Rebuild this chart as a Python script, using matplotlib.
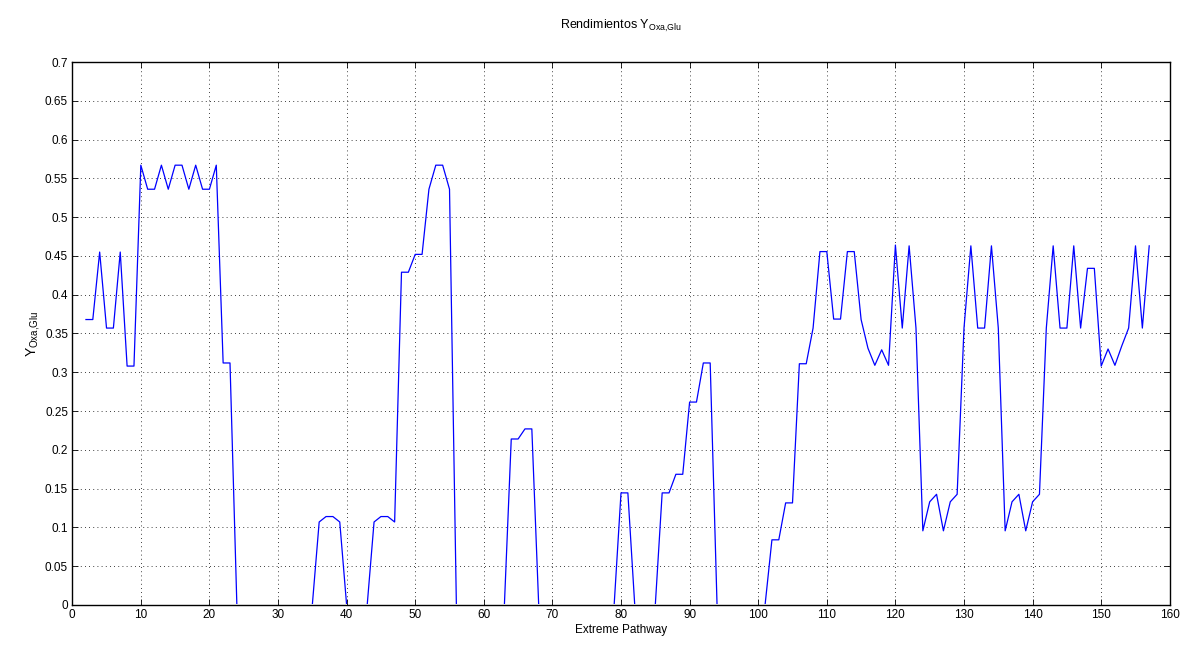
import matplotlib
matplotlib.use('Agg')
import matplotlib.pyplot as plt
from matplotlib.patches import Rectangle
import numpy as np

# extreme pathway index (starts at 2)
pathway = list(range(2, 158))

# yield values, one per pathway
y_2_23 = [0.368, 0.368, 0.455, 0.357, 0.357, 0.455, 0.308, 0.308, 0.567, 0.536,
          0.536, 0.567, 0.536, 0.567, 0.567, 0.536, 0.567, 0.536, 0.536, 0.567,
          0.312, 0.312]
y_24_35 = [0] * 12
y_36_55 = [0.107, 0.114, 0.114, 0.107, 0, 0, 0, 0, 0.107, 0.114,
           0.114, 0.107, 0.429, 0.429, 0.452, 0.452, 0.536, 0.567, 0.567, 0.536]
y_56_63 = [0] * 8
y_64_67 = [0.214, 0.214, 0.227, 0.227]
y_68_79 = [0] * 12
y_80_93 = [0.1445, 0.1445, 0, 0, 0, 0, 0.1445, 0.1445, 0.1685, 0.1685,
           0.2616, 0.2616, 0.312, 0.312]
y_94_101 = [0] * 8
y_102_157 = [0.084, 0.084, 0.1316, 0.1316, 0.311, 0.311, 0.357, 0.4556, 0.4556, 0.3686,
             0.3686, 0.4556, 0.4556, 0.368, 0.331, 0.309, 0.329, 0.309, 0.464, 0.357,
             0.463, 0.357, 0.0956, 0.133, 0.1427, 0.0956, 0.133, 0.1427, 0.357, 0.463,
             0.357, 0.357, 0.463, 0.357, 0.0956, 0.133, 0.1427, 0.0956, 0.133, 0.1427,
             0.357, 0.463, 0.357, 0.357, 0.463, 0.357, 0.434, 0.434, 0.308, 0.330,
             0.309, 0.334, 0.357, 0.463, 0.357, 0.463]

yields = y_2_23 + y_24_35 + y_36_55 + y_56_63 + y_64_67 + y_68_79 + y_80_93 + y_94_101 + y_102_157

x_ticks = list(range(0, 161, 10))
y_ticks = [round(0.05 * i, 2) for i in range(15)]

plt.rcParams['font.family'] = ['Liberation Sans', 'DejaVu Sans']
plt.rcParams['font.size'] = 8.5
plt.rcParams['mathtext.default'] = 'regular'

fig = plt.figure(figsize=(11.84, 6.46), dpi=100)
ax = fig.add_axes([0.061, 0.0635, 0.927, 0.8405])

line, = ax.plot(pathway, yields, color=(0, 0, 1), linewidth=0.9, zorder=2)
# the zero stretches sit under the x axis line in the original, so clip them away
clip = Rectangle((0, 0.0016), 160, 1, transform=ax.transData)
line.set_clip_path(clip)

ax.set_xlim(0, 160)
ax.set_ylim(0, 0.7)
ax.set_xticks(x_ticks)
ax.set_yticks(y_ticks)
ax.set_yticklabels(['%g' % v for v in y_ticks])
ax.tick_params(direction='in', top=True, right=True, length=4, width=0.6, pad=3)
ax.grid(True, linestyle=(0, (1, 4)), color='black', linewidth=0.6)
for s in ax.spines.values():
    s.set_linewidth(1.0)
    s.set_zorder(3)

ax.set_title(r'Rendimientos $Y_{Oxa{,}Glu}$', fontsize=9, pad=24)
ax.set_xlabel('Extreme Pathway', labelpad=2)
ax.set_ylabel(r'$Y_{Oxa{,}Glu}$', fontsize=10, labelpad=2)

fig.savefig('out.png', dpi=100)
